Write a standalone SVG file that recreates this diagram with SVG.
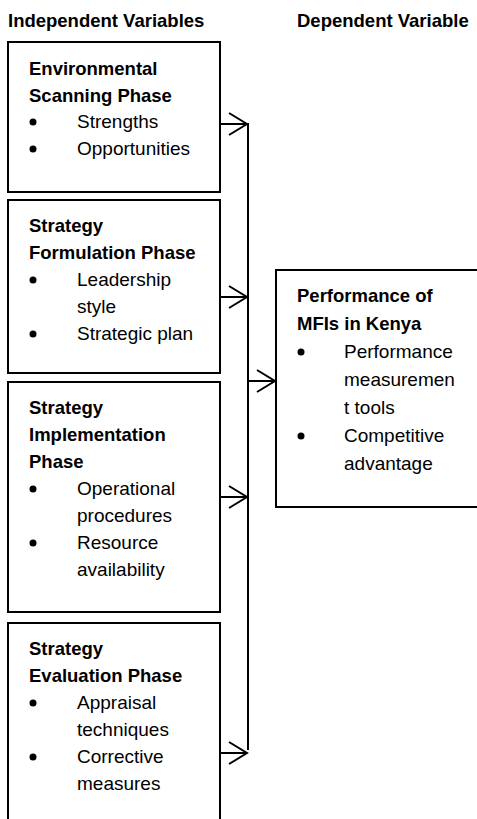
<svg xmlns="http://www.w3.org/2000/svg" width="477" height="819" viewBox="0 0 477 819">
<style>
text{font-family:"Liberation Sans",Arial,sans-serif;fill:#000}
.h{font-weight:bold;font-size:18.5px}
.t{font-size:19px}
.box{fill:#fff;stroke:#000;stroke-width:2}
.ln{fill:none;stroke:#000;stroke-width:2}
.b{fill:#000}
</style>
<rect width="477" height="819" fill="#fff"/>
<text class="h" x="8" y="27">Independent Variables</text>
<text class="h" x="297" y="27">Dependent Variable</text>

<g id="env">
<rect class="box" x="8" y="42" width="212" height="150"/>
<text class="h" x="29" y="75">Environmental</text>
<text class="h" x="29" y="102">Scanning Phase</text>
<circle class="b" cx="33" cy="122" r="3.5"/>
<text class="t" x="77" y="128">Strengths</text>
<circle class="b" cx="33" cy="149" r="3.5"/>
<text class="t" x="77" y="155">Opportunities</text>
</g>

<g id="form">
<rect class="box" x="8" y="200" width="212" height="173"/>
<text class="h" x="29" y="232">Strategy</text>
<text class="h" x="29" y="259">Formulation Phase</text>
<circle class="b" cx="33" cy="280" r="3.5"/>
<text class="t" x="77" y="286">Leadership</text>
<text class="t" x="77" y="313">style</text>
<circle class="b" cx="33" cy="334" r="3.5"/>
<text class="t" x="77" y="340">Strategic plan</text>
</g>

<g id="impl">
<rect class="box" x="8" y="382" width="212" height="230"/>
<text class="h" x="29" y="414">Strategy</text>
<text class="h" x="29" y="441">Implementation</text>
<text class="h" x="29" y="468">Phase</text>
<circle class="b" cx="33" cy="489" r="3.5"/>
<text class="t" x="77" y="495">Operational</text>
<text class="t" x="77" y="522">procedures</text>
<circle class="b" cx="33" cy="543" r="3.5"/>
<text class="t" x="77" y="549">Resource</text>
<text class="t" x="77" y="576">availability</text>
</g>

<g id="eval">
<rect class="box" x="8" y="623" width="212" height="210"/>
<text class="h" x="29" y="655">Strategy</text>
<text class="h" x="29" y="682">Evaluation Phase</text>
<circle class="b" cx="33" cy="703" r="3.5"/>
<text class="t" x="77" y="709">Appraisal</text>
<text class="t" x="77" y="736">techniques</text>
<circle class="b" cx="33" cy="757" r="3.5"/>
<text class="t" x="77" y="763">Corrective</text>
<text class="t" x="77" y="790">measures</text>
</g>

<g id="perf">
<rect class="box" x="276" y="270" width="210" height="237"/>
<text class="h" x="297" y="302">Performance of</text>
<text class="h" x="297" y="330">MFIs in Kenya</text>
<circle class="b" cx="301" cy="352" r="3.5"/>
<text class="t" x="344" y="358">Performance</text>
<text class="t" x="344" y="386">measuremen</text>
<text class="t" x="344" y="414">t tools</text>
<circle class="b" cx="301" cy="436" r="3.5"/>
<text class="t" x="344" y="442">Competitive</text>
<text class="t" x="344" y="470">advantage</text>
</g>

<g id="connectors">
<line class="ln" x1="248" y1="123" x2="248" y2="750"/>
<path class="ln" d="M220 124H247M229 113L247 124L229 135"/>
<path class="ln" d="M220 297H247M229 286L247 297L229 308"/>
<path class="ln" d="M220 497H247M229 486L247 497L229 508"/>
<path class="ln" d="M220 753H247M229 742L247 753L229 764"/>
<path class="ln" d="M248 381H275M257 370L275 381L257 392"/>
</g>
</svg>
